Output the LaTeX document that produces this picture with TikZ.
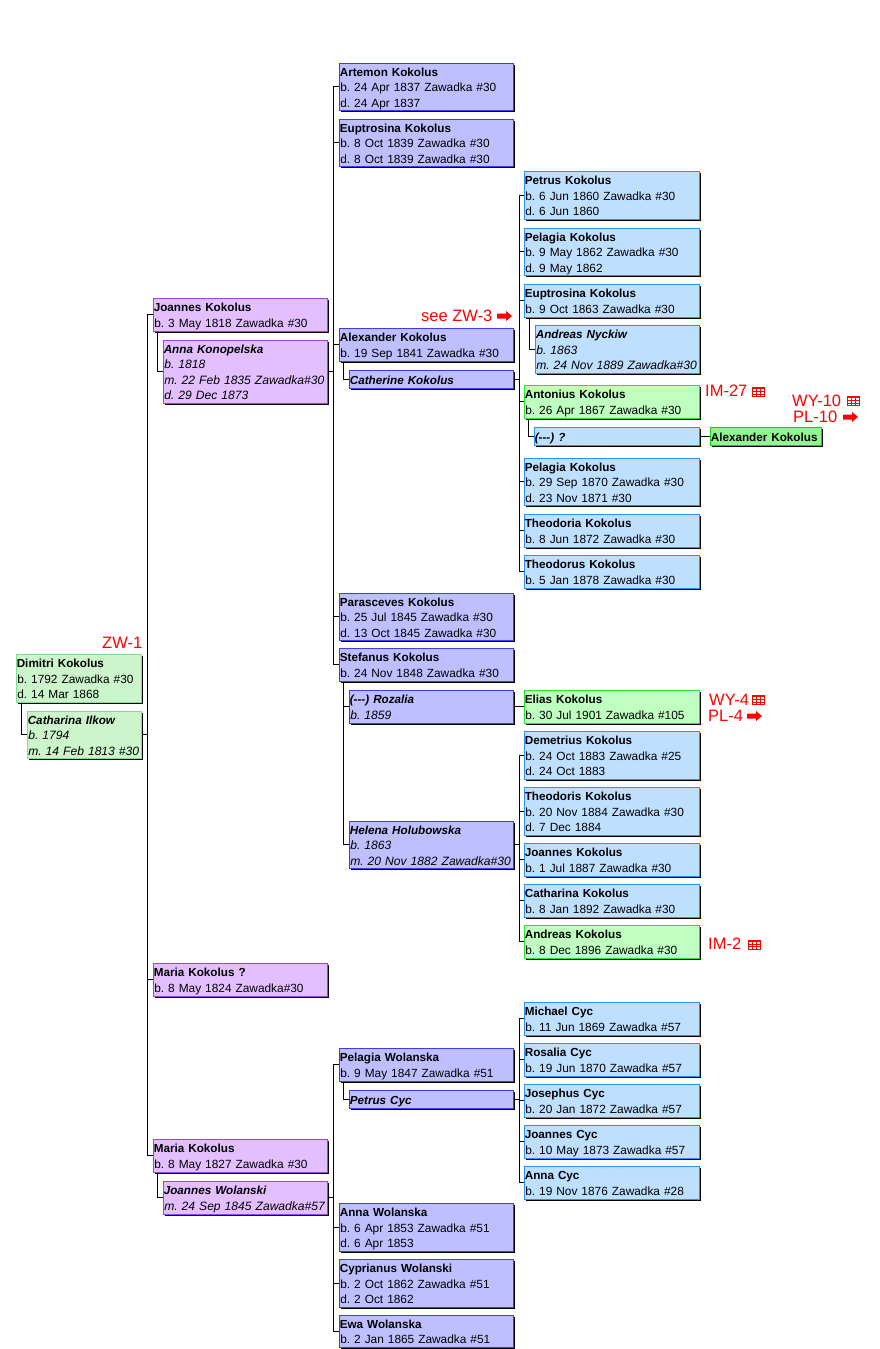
\documentclass[tikz,border=0pt]{standalone}
\usepackage{fontspec}
\setmainfont{Liberation Sans}
\usetikzlibrary{shadows}
\definecolor{pfill}{HTML}{E3BFFF}\definecolor{pline}{HTML}{A040E8}
\definecolor{bfill}{HTML}{BFBFFF}\definecolor{bline}{HTML}{3C3CF0}
\definecolor{cfill}{HTML}{BFDFFF}\definecolor{cline}{HTML}{3090F0}
\definecolor{gfill}{HTML}{CCF5CC}\definecolor{gline}{HTML}{80E090}
\definecolor{hfill}{HTML}{BFFFBF}\definecolor{hline}{HTML}{30E030}
\definecolor{kfill}{HTML}{90F890}\definecolor{kline}{HTML}{10D010}
\newcommand{\bodysize}{11.87}
\tikzset{
 person/.style={draw,line width=1pt,anchor=north west,outer sep=0pt,inner xsep=1.3pt,inner ysep=0pt,align=left,
   font=\fontsize{12}{15.5}\selectfont\frenchspacing,
   general shadow={shadow xshift=1.5pt,shadow yshift=-1.5pt,fill=black}},
 purple/.style={person,fill=pfill,draw=pline},
 blue/.style={person,fill=bfill,draw=bline},
 sky/.style={person,fill=cfill,draw=cline},
 pale/.style={person,fill=gfill,draw=gline},
 mint/.style={person,fill=hfill,draw=hline},
 lime/.style={person,fill=kfill,draw=kline},
 sp/.style={execute at begin node=\itshape\renewcommand{\bodysize}{12.1}},
 link/.style={draw=black,line width=1pt},
 tag/.style={text=red,anchor=west,inner sep=0pt,font=\fontsize{16.5}{18}\selectfont}
}
\newcommand{\nm}[1]{\hspace*{-.5pt}\raisebox{-.2pt}[12pt][2.5pt]{\fontsize{11.7}{15.5}\selectfont\bfseries #1}}
\newcommand{\pl}[1]{\raisebox{-.2pt}[12pt][2.5pt]{\fontsize{\bodysize}{15.5}\selectfont #1}}
\newcommand{\pb}[7]{%
 \pgfmathsetmacro\bw{#4-#2-.5}\pgfmathsetmacro\bh{#5-#3-.5}\pgfmathsetmacro\tw{#4-#2-3.1}%
 \node[#6,minimum width=\bw pt,minimum height=\bh pt,text width=\tw pt] (#1) at (#2,#3) {#7};}
% spouse link
\newcommand{\spouse}[2]{\draw[link] (#2.west) -- ++(-5.5,0) coordinate (t) -- (t |- #1.south);}
% bracket from a parent to children
\newcommand{\sib}[4]{%
 \draw[link] (#1.east) -- ++(5.5,0) coordinate (s);
 \draw[link] (s |- #2.west) -- (s |- #3.west);
 \foreach \c in {#4} {\draw[link] (s |- \c.west) -- (\c.west);}}
\newcommand{\tbl}[2]{\begin{scope}[shift={(#1,#2)},red,line width=.8pt]
 \draw (0,0) rectangle (12,9);
 \draw[line width=1.2pt] (0,1) -- (12,1);
 \draw (0,4) -- (12,4) (0,6.5) -- (12,6.5) (4,0) -- (4,9) (8,0) -- (8,9);
 \end{scope}}
\newcommand{\rar}[2]{\fill[red,shift={(#1,#2)}] (0,-2.5) -- (9,-2.5) -- (9,-5) -- (15,0) -- (9,5) -- (9,2.5) -- (0,2.5) -- cycle;}
\begin{document}
\begin{tikzpicture}[x=1pt,y=-1pt]
\useasboundingbox[fill=white] (0,0) rectangle (880,1349);
% generation 1
\pb{dimitri}{16}{654}{142}{703}{pale}{\nm{Dimitri Kokolus}\\\pl{b. 1792 Zawadka \#30}\\\pl{d. 14 Mar 1868}}
\pb{cathI}{27}{711}{142}{759}{pale,sp}{\nm{Catharina Ilkow}\\\pl{b. 1794}\\\pl{m. 14 Feb 1813 \#30}}
% generation 2
\pb{joannes}{153}{298}{328}{332}{purple}{\nm{Joannes Kokolus}\\\pl{b. 3 May 1818 Zawadka \#30}}
\pb{anna}{163}{340}{328}{404}{purple,sp}{\nm{Anna Konopelska}\\\pl{b. 1818}\\\pl{m. 22 Feb 1835 Zawadka\#30}\\\pl{d. 29 Dec 1873}}
\pb{mariaQ}{153}{963}{328}{997}{purple}{\nm{Maria Kokolus ?}\\\pl{b. 8 May 1824 Zawadka\#30}}
\pb{maria}{153}{1139}{328}{1173}{purple}{\nm{Maria Kokolus}\\\pl{b. 8 May 1827 Zawadka \#30}}
\pb{joanW}{163}{1181}{328}{1215}{purple,sp}{\nm{Joannes Wolanski}\\\pl{m. 24 Sep 1845 Zawadka\#57}}
% generation 3
\pb{artemon}{339}{63}{514}{111}{blue}{\nm{Artemon Kokolus}\\\pl{b. 24 Apr 1837 Zawadka \#30}\\\pl{d. 24 Apr 1837}}
\pb{eupt}{339}{119}{514}{167}{blue}{\nm{Euptrosina Kokolus}\\\pl{b. 8 Oct 1839 Zawadka \#30}\\\pl{d. 8 Oct 1839 Zawadka \#30}}
\pb{alex}{339}{328}{514}{362}{blue}{\nm{Alexander Kokolus}\\\pl{b. 19 Sep 1841 Zawadka \#30}}
\pb{cathK}{349}{370}{514}{389}{blue,sp}{\nm{Catherine Kokolus}}
\pb{paras}{339}{593}{514}{641}{blue}{\nm{Parasceves Kokolus}\\\pl{b. 25 Jul 1845 Zawadka \#30}\\\pl{d. 13 Oct 1845 Zawadka \#30}}
\pb{stef}{339}{648}{514}{682}{blue}{\nm{Stefanus Kokolus}\\\pl{b. 24 Nov 1848 Zawadka \#30}}
\pb{roz}{349}{690}{514}{724}{blue,sp}{\nm{(-{}-{}-) Rozalia}\\\pl{b. 1859}}
\pb{helena}{349}{821}{514}{869}{blue,sp}{\nm{Helena Holubowska}\\\pl{b. 1863}\\\pl{m. 20 Nov 1882 Zawadka\#30}}
\pb{pelW}{339}{1048}{514}{1082}{blue}{\nm{Pelagia Wolanska}\\\pl{b. 9 May 1847 Zawadka \#51}}
\pb{petrC}{349}{1090}{514}{1109}{blue,sp}{\nm{Petrus Cyc}}
\pb{annaW}{339}{1203}{514}{1252}{blue}{\nm{Anna Wolanska}\\\pl{b. 6 Apr 1853 Zawadka \#51}\\\pl{d. 6 Apr 1853}}
\pb{cypr}{339}{1259}{514}{1308}{blue}{\nm{Cyprianus Wolanski}\\\pl{b. 2 Oct 1862 Zawadka \#51}\\\pl{d. 2 Oct 1862}}
\pb{ewa}{339}{1315}{514}{1348}{blue}{\nm{Ewa Wolanska}\\\pl{b. 2 Jan 1865 Zawadka \#51}}
% generation 4
\pb{petrK}{524}{171}{700}{220}{sky}{\nm{Petrus Kokolus}\\\pl{b. 6 Jun 1860 Zawadka \#30}\\\pl{d. 6 Jun 1860}}
\pb{pel1}{524}{228}{700}{276}{sky}{\nm{Pelagia Kokolus}\\\pl{b. 9 May 1862 Zawadka \#30}\\\pl{d. 9 May 1862}}
\pb{eup2}{524}{284}{700}{318}{sky}{\nm{Euptrosina Kokolus}\\\pl{b. 9 Oct 1863 Zawadka \#30}}
\pb{andN}{535}{325}{700}{374}{sky,sp}{\nm{Andreas Nyckiw}\\\pl{b. 1863}\\\pl{m. 24 Nov 1889 Zawadka\#30}}
\pb{anton}{524}{385}{700}{419}{mint}{\nm{Antonius Kokolus}\\\pl{b. 26 Apr 1867 Zawadka \#30}}
\pb{unk}{534}{427}{700}{446}{sky,sp}{\nm{(-{}-{}-) ?}}
\pb{alexG}{710}{427}{822}{446}{lime}{\nm{Alexander Kokolus}}
\pb{pel2}{524}{458}{700}{506}{sky}{\nm{Pelagia Kokolus}\\\pl{b. 29 Sep 1870 Zawadka \#30}\\\pl{d. 23 Nov 1871 \#30}}
\pb{theoa}{524}{514}{700}{548}{sky}{\nm{Theodoria Kokolus}\\\pl{b. 8 Jun 1872 Zawadka \#30}}
\pb{theob}{524}{555}{700}{589}{sky}{\nm{Theodorus Kokolus}\\\pl{b. 5 Jan 1878 Zawadka \#30}}
\pb{elias}{524}{690}{700}{724}{mint}{\nm{Elias Kokolus}\\\pl{b. 30 Jul 1901 Zawadka \#105}}
\pb{dem}{524}{731}{700}{780}{sky}{\nm{Demetrius Kokolus}\\\pl{b. 24 Oct 1883 Zawadka \#25}\\\pl{d. 24 Oct 1883}}
\pb{theoc}{524}{787}{700}{836}{sky}{\nm{Theodoris Kokolus}\\\pl{b. 20 Nov 1884 Zawadka \#30}\\\pl{d. 7 Dec 1884}}
\pb{joK}{524}{843}{700}{877}{sky}{\nm{Joannes Kokolus}\\\pl{b. 1 Jul 1887 Zawadka \#30}}
\pb{caK}{524}{884}{700}{918}{sky}{\nm{Catharina Kokolus}\\\pl{b. 8 Jan 1892 Zawadka \#30}}
\pb{andK}{524}{925}{700}{959}{mint}{\nm{Andreas Kokolus}\\\pl{b. 8 Dec 1896 Zawadka \#30}}
\pb{mic}{524}{1002}{700}{1036}{sky}{\nm{Michael Cyc}\\\pl{b. 11 Jun 1869 Zawadka \#57}}
\pb{ros}{524}{1043}{700}{1077}{sky}{\nm{Rosalia Cyc}\\\pl{b. 19 Jun 1870 Zawadka \#57}}
\pb{jos}{524}{1084}{700}{1118}{sky}{\nm{Josephus Cyc}\\\pl{b. 20 Jan 1872 Zawadka \#57}}
\pb{joC}{524}{1125}{700}{1159}{sky}{\nm{Joannes Cyc}\\\pl{b. 10 May 1873 Zawadka \#57}}
\pb{anC}{524}{1166}{700}{1200}{sky}{\nm{Anna Cyc}\\\pl{b. 19 Nov 1876 Zawadka \#28}}
% spouse links
\spouse{dimitri}{cathI}
\spouse{joannes}{anna}
\spouse{maria}{joanW}
\spouse{alex}{cathK}
\spouse{stef}{roz}
\spouse{stef}{helena}
\spouse{pelW}{petrC}
\spouse{eup2}{andN}
\spouse{anton}{unk}
% sibling brackets
\sib{cathI}{joannes}{maria}{joannes,mariaQ,maria}
\sib{anna}{artemon}{stef}{artemon,eupt,alex,paras,stef}
\sib{joanW}{pelW}{ewa}{pelW,annaW,cypr,ewa}
\sib{cathK}{petrK}{theob}{petrK,pel1,eup2,anton,pel2,theoa,theob}
\sib{helena}{dem}{andK}{dem,theoc,joK,caK,andK}
\sib{petrC}{mic}{anC}{mic,ros,jos,joC,anC}
\draw[link] (roz) -- (elias);
\draw[link] (unk) -- (alexG);
% red labels
\node[tag] (zw1) at (102,643) {ZW-1};
\node[tag] (see) at (421,316) {see ZW-3};
\node[tag] (im27) at (705,391) {IM-27};
\node[tag] (wy10) at (792,401) {WY-10};
\node[tag] (pl10) at (793,417) {PL-10};
\node[tag] (wy4) at (709,700) {WY-4};
\node[tag] (pl4) at (708,716) {PL-4};
\node[tag] (im2) at (708,944) {IM-2};
\tbl{752.5}{387.5}\tbl{847.5}{396.5}\tbl{752.5}{695.5}\tbl{748.5}{940}
\rar{497}{316}\rar{843}{417}\rar{747}{716}
\end{tikzpicture}
\end{document}
